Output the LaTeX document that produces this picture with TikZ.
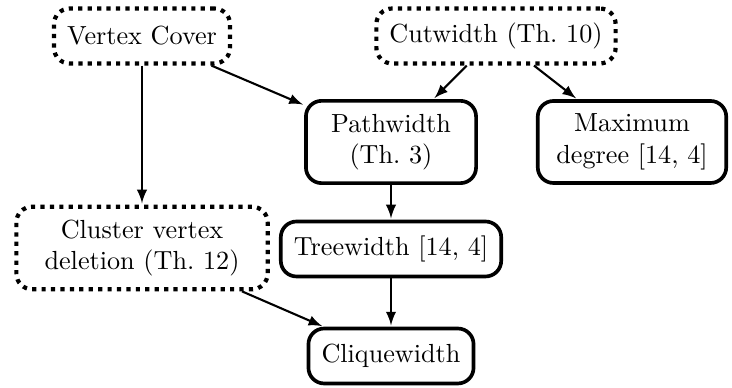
\documentclass[tikz,border=0pt]{standalone}
\usepackage{amsmath}
\usepackage{tikz}
\usetikzlibrary{arrows}

\begin{document}
\begin{tikzpicture}[line cap=butt,line join=round,>=latex,x=0.382pt,y=0.382pt,
  solidbox/.style={draw,line width=1.4pt,rounded corners=6pt,inner sep=5pt,align=center,minimum height=21pt},
  dotbox/.style={solidbox,line width=1.6pt,dotted},
  twoline/.style={minimum height=31pt},
  implies/.style={->,line width=0.8pt,shorten >=0.5pt}]
\useasboundingbox (0,0) rectangle (732,388);
\node[dotbox] (vc) at (142,352) {Vertex Cover};
\node[dotbox] (cut) at (496,352) {Cutwidth (Th.~10)};
\node[solidbox,twoline,minimum width=65pt] (path) at (391,246) {Pathwidth\\(Th.~3)};
\node[solidbox,twoline,minimum width=72pt] (maxdeg) at (632,246) {Maximum\\degree [14, 4]};
\node[dotbox,twoline,minimum width=96pt] (cvd) at (142,140) {Cluster vertex\\deletion (Th.~12)};
\node[solidbox] (tree) at (391,139) {Treewidth [14, 4]};
\node[solidbox] (clique) at (391,32) {Cliquewidth};
\draw[implies] (vc) -- (cvd);
\draw[implies] (vc) -- (path);
\draw[implies] (cut) -- (path);
\draw[implies] (cut) -- (maxdeg);
\draw[implies] (path) -- (tree);
\draw[implies] (tree) -- (clique);
\draw[implies] (cvd) -- (clique);
\end{tikzpicture}
\end{document}
